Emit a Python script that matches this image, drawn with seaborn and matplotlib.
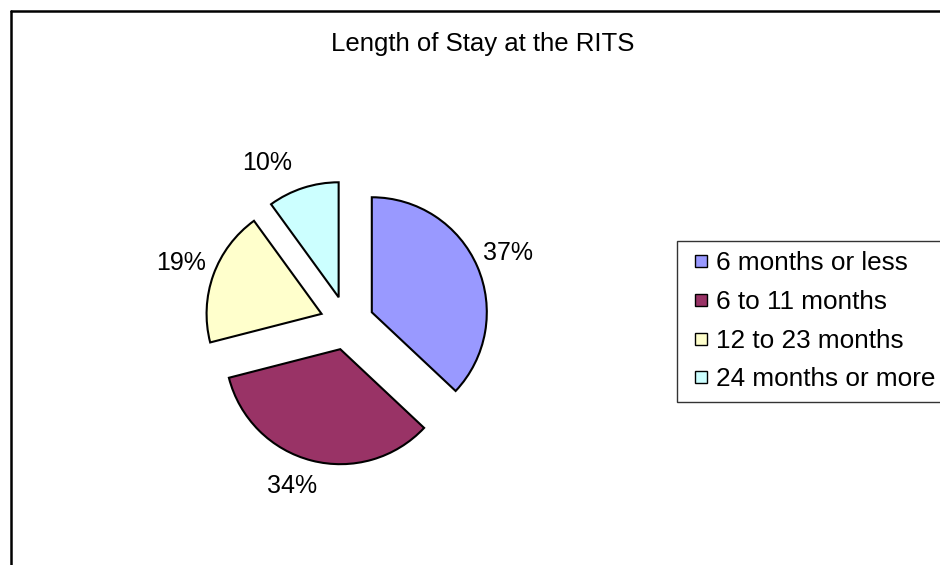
import matplotlib
matplotlib.use("Agg")
import matplotlib.pyplot as plt
import seaborn as sns
import numpy as np
from matplotlib.lines import Line2D

sns.set_theme(style="white")
plt.rcParams["font.family"] = ["Liberation Sans", "DejaVu Sans"]
plt.rcParams["text.color"] = "black"

categories = ["6 months or less", "6 to 11 months", "12 to 23 months", "24 months or more"]
shares = [37, 34, 19, 10]
colors = ["#9999FF", "#993366", "#FFFFCC", "#CCFFFF"]
# excel puts the labels a bit unevenly: distance (radii) and angle nudge (deg)
label_dist = [1.29, 1.265, 1.30, 1.32]
label_nudge = [0, -5, 0, 10]

W, H = 940, 565
fig = plt.figure(figsize=(W / 100, H / 100), dpi=100)
fig.patch.set_facecolor("white")

# square axes centred on the pie, 1 unit = 115 px
cx, cy, R = 347, 323, 115
ax = fig.add_axes([(cx - 2 * R) / W, (H - cy - 2 * R) / H, 4 * R / W, 4 * R / H])
wedges, _ = ax.pie(
    shares,
    colors=colors,
    startangle=90,
    counterclock=False,
    explode=[0.235] * 4,
    wedgeprops={"edgecolor": "black", "linewidth": 1.5},
)
for w, v, d, n in zip(wedges, shares, label_dist, label_nudge):
    th = np.deg2rad((w.theta1 + w.theta2) / 2 + n)
    x0, y0 = w.center
    ax.text(x0 + d * np.cos(th), y0 + d * np.sin(th), f"{v}%",
            ha="center", va="center", fontsize=18, color="black")
ax.set_xlim(-2, 2)
ax.set_ylim(-2, 2)
ax.set_aspect("equal")
ax.axis("off")

fig.text(483 / W, 1 - 44 / H, "Length of Stay at the RITS",
         ha="center", va="center", fontsize=18.5, color="black")

handles = [Line2D([], [], marker="s", linestyle="none", markersize=8.6,
                  markerfacecolor=c, markeredgecolor="black", markeredgewidth=1)
           for c in colors]
leg = fig.legend(
    handles, categories,
    loc="upper left", bbox_to_anchor=(677 / W, 1 - 241 / H),
    borderaxespad=0, fontsize=18.8, frameon=True, fancybox=False,
    handlelength=1.0, handletextpad=0.1, labelcolor="black",
    labelspacing=0.56, borderpad=0.4, edgecolor="black",
)
leg.get_frame().set_linewidth(1.0)

# chart area border, cut off on the right and bottom
bx, by = 11 / W, 1 - 11 / H
fig.add_artist(Line2D([bx, bx], [0, by], color="black", lw=1.8, transform=fig.transFigure))
fig.add_artist(Line2D([bx, 1], [by, by], color="black", lw=1.8, transform=fig.transFigure))

fig.savefig("out.png", dpi=100)
